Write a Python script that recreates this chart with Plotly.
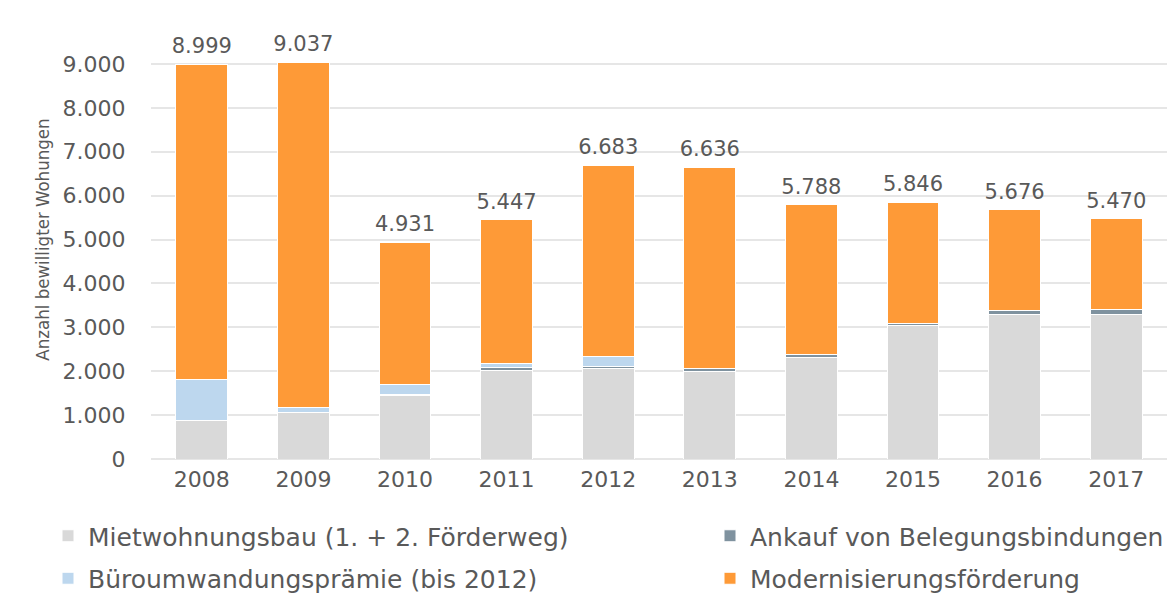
import plotly.graph_objects as go

years = ["2008", "2009", "2010", "2011", "2012", "2013", "2014", "2015", "2016", "2017"]
totals = [8999, 9037, 4931, 5447, 6683, 6636, 5788, 5846, 5676, 5470]
miet = [866, 1063, 1450, 2027, 2066, 1999, 2316, 3045, 3295, 3303]
ankauf = [0, 0, 25, 53, 45, 69, 76, 53, 91, 114]
buero = [956, 100, 233, 91, 228, 0, 0, 0, 0, 0]
modern = [t - m - a - b for t, m, a, b in zip(totals, miet, ankauf, buero)]
total_labels = ["8.999", "9.037", "4.931", "5.447", "6.683", "6.636", "5.788", "5.846", "5.676", "5.470"]
y_ticks = [0, 1000, 2000, 3000, 4000, 5000, 6000, 7000, 8000, 9000, 10000]
y_tick_labels = ["0", "1.000", "2.000", "3.000", "4.000", "5.000",
                 "6.000", "7.000", "8.000", "9.000", "10.000"]

names = ["Mietwohnungsbau (1. + 2. Förderweg)", "Ankauf von Belegungsbindungen",
         "Büroumwandungsprämie (bis 2012)", "Modernisierungsförderung"]
colors = ["#d9d9d9", "#7f929f", "#bdd7ee", "#fe9a37"]
series = [miet, ankauf, buero, modern]
legend_of = ["legend", "legend2", "legend", "legend2"]

TXT = "#595959"
fig = go.Figure()
for name, col, vals, lg in zip(names, colors, series, legend_of):
    fig.add_trace(go.Bar(
        x=years, y=[float(v) for v in vals], name=name, legend=lg, legendgroup=name,
        marker_color=col, marker_line_color="white", marker_line_width=1,
    ))

fig.add_trace(go.Scatter(
    x=years, y=[float(t) for t in totals], text=total_labels, mode="markers+text",
    marker=dict(size=8, color="rgba(0,0,0,0)"),
    textposition="top center", showlegend=False, cliponaxis=False, hoverinfo="skip",
    textfont=dict(family="DejaVu Sans", size=21, color=TXT),
))

legend_font = dict(family="DejaVu Sans", size=25, color=TXT)
fig.update_layout(
    barmode="stack",
    width=1176, height=596,
    margin=dict(l=143, r=17, t=12, b=145, autoexpand=False),
    paper_bgcolor="white", plot_bgcolor="white",
    bargap=0.49,
    legend=dict(x=-103 / 1016, y=-54 / 439, traceorder="grouped",
                xanchor="left", yanchor="top", orientation="v", tracegroupgap=7,
                font=legend_font, bgcolor="rgba(0,0,0,0)"),
    legend2=dict(x=559 / 1016, y=-54 / 439, traceorder="grouped",
                 xanchor="left", yanchor="top", orientation="v", tracegroupgap=7,
                 font=legend_font, bgcolor="rgba(0,0,0,0)"),
    xaxis=dict(type="category", range=[-0.5, 9.5], showgrid=False, showline=False,
               ticks="outside", ticklen=1, tickcolor="rgba(0,0,0,0)",
               tickfont=dict(family="DejaVu Sans", size=22, color=TXT)),
    yaxis=dict(range=[0, 10002], tickmode="array", tickvals=y_ticks, ticktext=y_tick_labels,
               showgrid=True, gridcolor="#e6e6e6", gridwidth=1.5,
               zeroline=True, zerolinecolor="#e6e6e6", zerolinewidth=2,
               ticks="outside", ticklen=20, tickcolor="rgba(0,0,0,0)",
               tickfont=dict(family="DejaVu Sans", size=22, color=TXT),
               title=dict(text="Anzahl bewilligter Wohungen", standoff=8,
                          font=dict(family="Liberation Sans Narrow, DejaVu Sans Condensed, sans-serif",
                                    size=18.5, color=TXT))),
)

fig.write_html("out.html")
